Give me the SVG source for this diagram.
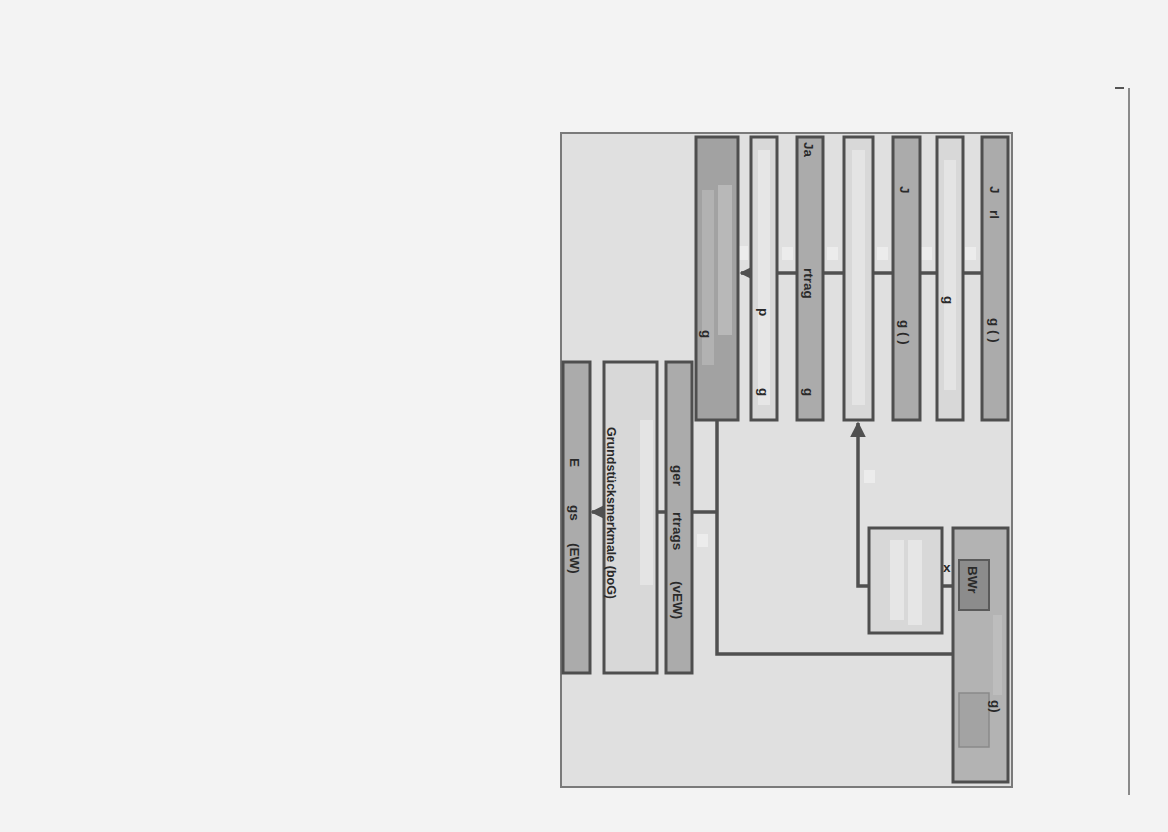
<svg xmlns="http://www.w3.org/2000/svg" width="1168" height="832" viewBox="0 0 1168 832">
<defs>
<style>
.box{stroke:#4e4e4e;stroke-width:3}
.mid{fill:#ababab}
.lt{fill:#d8d8d8}
.dk{fill:#a2a2a2}
.ln{fill:none;stroke:#505050;stroke-width:3.5}
.t{font-family:"Liberation Sans",Arial,sans-serif;font-weight:bold;font-size:13.5px;fill:#2a2a2a}
.tag{fill:#ececec;stroke:none}
.inner{stroke:none}
</style>
<marker id="ah" viewBox="0 0 10 10" refX="9" refY="5" markerWidth="4.5" markerHeight="4.5" orient="auto-start-reverse" markerUnits="strokeWidth">
<path d="M0,0 L10,5 L0,10 z" fill="#505050"/>
</marker>
</defs>
<rect width="1168" height="832" fill="#f3f3f3"/>
<line x1="1129" y1="88" x2="1129" y2="795" stroke="#8a8a8a" stroke-width="2"/>
<line x1="1115" y1="88" x2="1124" y2="88" stroke="#555" stroke-width="2"/>
<rect x="561" y="133" width="451" height="654" fill="#e0e0e0" stroke="#7a7a7a" stroke-width="2"/>

<g id="connectors">
<polyline class="ln" points="777,273 982,273"/>
<line class="ln" x1="777" y1="273" x2="741" y2="273" marker-end="url(#ah)"/>
<polyline class="ln" points="717,420 717,654 953,654"/>
<polyline class="ln" points="717,512 666,512"/>
<line class="ln" x1="657" y1="512" x2="666" y2="512"/>
<line class="ln" x1="604" y1="512" x2="592" y2="512" marker-end="url(#ah)"/>
<polyline class="ln" points="869,586 858,586 858,423" marker-end="url(#ah)"/>
<line class="ln" x1="942" y1="586" x2="953" y2="586"/>
<rect class="tag" x="737" y="246" width="11" height="14"/>
<rect class="tag" x="782" y="247" width="11" height="13"/>
<rect class="tag" x="827" y="247" width="11" height="13"/>
<rect class="tag" x="877" y="247" width="11" height="13"/>
<rect class="tag" x="921" y="247" width="11" height="13"/>
<rect class="tag" x="965" y="247" width="11" height="13"/>
<rect class="tag" x="864" y="470" width="11" height="13"/>
<rect class="tag" x="697" y="534" width="11" height="13"/>
<text class="t" x="943" y="572" font-size="12">x</text>
</g>

<g id="nodeA">
<rect class="box dk" x="696" y="137" width="42" height="283"/>
<rect class="inner" x="702" y="190" width="12" height="175" fill="#b2b2b2"/>
<rect class="inner" x="718" y="185" width="14" height="150" fill="#b8b8b8"/>
<text class="t" transform="translate(702,330) rotate(90)">g</text>
</g>
<g id="nodeB">
<rect class="box lt" x="751" y="137" width="26" height="283"/>
<rect class="inner" x="758" y="150" width="12" height="255" fill="#e6e6e6"/>
<text class="t" transform="translate(759,308) rotate(90)">p</text>
<text class="t" transform="translate(759,388) rotate(90)">g</text>
</g>
<g id="nodeC">
<rect class="box mid" x="797" y="137" width="26" height="283"/>
<text class="t" transform="translate(804,142) rotate(90)">Ja</text>
<text class="t" transform="translate(804,268) rotate(90)">rtrag</text>
<text class="t" transform="translate(804,388) rotate(90)">g</text>
</g>
<g id="nodeD">
<rect class="box lt" x="844" y="137" width="29" height="283"/>
<rect class="inner" x="852" y="150" width="13" height="255" fill="#e4e4e4"/>
</g>
<g id="nodeE">
<rect class="box mid" x="893" y="137" width="27" height="283"/>
<text class="t" transform="translate(900,186) rotate(90)">J</text>
<text class="t" transform="translate(900,320) rotate(90)">g (  )</text>
</g>
<g id="nodeF">
<rect class="box lt" x="937" y="137" width="26" height="283"/>
<rect class="inner" x="944" y="160" width="12" height="230" fill="#e4e4e4"/>
<text class="t" transform="translate(944,296) rotate(90)">g</text>
</g>
<g id="nodeG">
<rect class="box mid" x="982" y="137" width="26" height="283"/>
<text class="t" transform="translate(990,186) rotate(90)">J</text>
<text class="t" transform="translate(990,210) rotate(90)">rl</text>
<text class="t" transform="translate(990,318) rotate(90)">g (  )</text>
</g>

<g id="nodeJ">
<rect class="box mid" x="666" y="362" width="26" height="311"/>
<text class="t" transform="translate(673,465) rotate(90)">ger</text>
<text class="t" transform="translate(673,512) rotate(90)">rtrags</text>
<text class="t" transform="translate(673,581) rotate(90)">(vEW)</text>
</g>
<g id="nodeI">
<rect class="box lt" x="604" y="362" width="53" height="311"/>
<rect class="inner" x="640" y="420" width="13" height="165" fill="#e4e4e4"/>
<text class="t" font-size="13" textLength="172" lengthAdjust="spacingAndGlyphs" transform="translate(607,427) rotate(90)">Grundstücksmerkmale (boG)</text>
</g>
<g id="nodeH">
<rect class="box mid" x="563" y="362" width="27" height="311"/>
<text class="t" transform="translate(570,458) rotate(90)">E</text>
<text class="t" transform="translate(570,505) rotate(90)">gs</text>
<text class="t" transform="translate(570,543) rotate(90)">(EW)</text>
</g>

<g id="nodeL">
<rect class="box lt" x="869" y="528" width="73" height="105"/>
<rect class="inner" x="890" y="540" width="14" height="80" fill="#e6e6e6"/>
<rect class="inner" x="908" y="540" width="14" height="85" fill="#e6e6e6"/>
</g>
<g id="nodeK">
<rect class="box" fill="#b3b3b3" x="953" y="528" width="55" height="254"/>
<rect class="inner" x="993" y="615" width="9" height="80" fill="#bdbdbd"/>
<rect x="959" y="560" width="30" height="50" fill="#8c8c8c" stroke="#5a5a5a" stroke-width="2"/>
<text class="t" font-size="16" transform="translate(968,566) rotate(90)">BWr</text>
<rect x="959" y="693" width="30" height="54" fill="#a3a3a3" stroke="#8a8a8a" stroke-width="1.5"/>
<text class="t" transform="translate(991,700) rotate(90)">g)</text>
</g>
</svg>
